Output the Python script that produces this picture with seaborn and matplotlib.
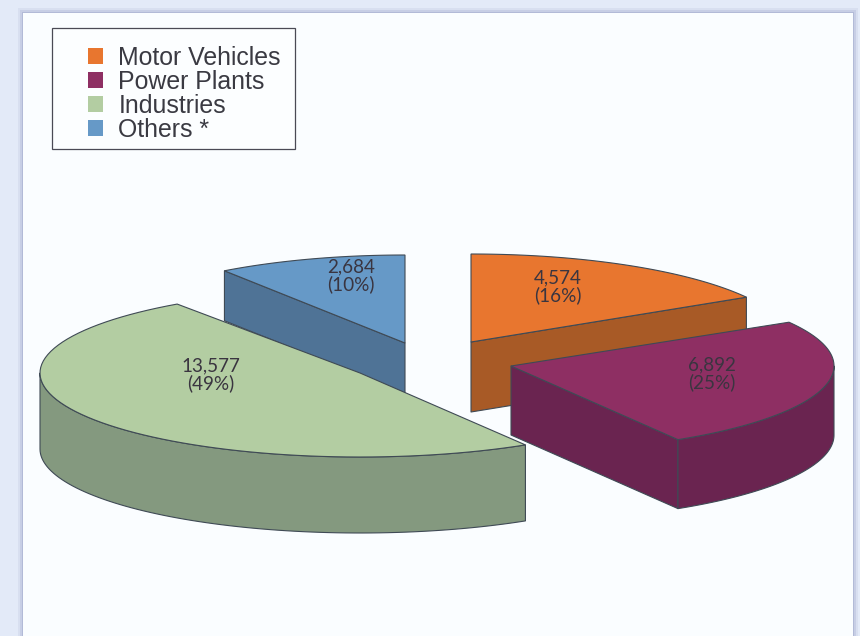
import numpy as np
import matplotlib
matplotlib.use('Agg')
import matplotlib.pyplot as plt
from matplotlib.patches import Patch, Rectangle
import seaborn as sns

categories = ['Motor Vehicles', 'Power Plants', 'Industries', 'Others *']
values = [4574, 6892, 13577, 2684]

top_colors = ['#E8762F', '#8E2F63', '#B3CDA2', '#6699C7']
side_colors = ['#A85A26', '#6A2450', '#84997F', '#4F7396']

# apex position (exploded slices), ellipse radii and extrusion depth, in pixels
apex_x = [471, 511, 360, 405]
apex_y = [342, 366, 373, 343]
radius_x = [320, 323, 320, 316]
radius_y = [88, 86, 84, 88]
depth = [70, 69, 76, 50]
label_x = [558, 712, 211, 351]
label_y = [287, 374, 375, 276]
draw_order = [3, 0, 1, 2]

EDGE = '#3F4A55'


def arc_points(i, t0, t1):
    t = np.radians(np.linspace(t0, t1, 80))
    return apex_x[i] + radius_x[i] * np.sin(t), apex_y[i] - radius_y[i] * np.cos(t)


def draw_wall(ax, xs, ys, d, color):
    px = np.concatenate([xs, xs[::-1]])
    py = np.concatenate([ys, ys[::-1] + d])
    ax.fill(px, py, facecolor=color, edgecolor=EDGE, linewidth=0.8, joinstyle='round')


def draw_slice(ax, i, t0, t1):
    # a wall shows only where the outline runs leftwards on screen
    x0, y0 = arc_points(i, t0, t0)
    x1, y1 = arc_points(i, t1, t1)
    if np.sin(np.radians(t0)) < -1e-6:
        draw_wall(ax, np.array([apex_x[i], x0[0]]), np.array([apex_y[i], y0[0]]), depth[i], side_colors[i])
    if np.sin(np.radians(t1)) > 1e-6:
        draw_wall(ax, np.array([apex_x[i], x1[0]]), np.array([apex_y[i], y1[0]]), depth[i], side_colors[i])
    lo, hi = max(t0, 90), min(t1, 270)
    if hi > lo:
        ax_x, ax_y = arc_points(i, lo, hi)
        draw_wall(ax, ax_x, ax_y, depth[i], side_colors[i])
    arc_x, arc_y = arc_points(i, t0, t1)
    ax.fill(np.r_[apex_x[i], arc_x], np.r_[apex_y[i], arc_y], facecolor=top_colors[i],
            edgecolor=EDGE, linewidth=0.8)


sns.set_theme(style='white')
plt.rcParams['font.family'] = ['Liberation Sans', 'DejaVu Sans']

fig = plt.figure(figsize=(8.6, 6.36), dpi=100, facecolor='#E3EAF8')
ax = fig.add_axes([0, 0, 1, 1])
ax.set_xlim(0, 860)
ax.set_ylim(636, 0)
ax.axis('off')

# page panel with a soft shadow around it
for grow, alpha in zip([5, 3, 1], [0.12, 0.22, 0.35]):
    ax.add_patch(Rectangle((23 - grow, 13 - grow), 830 + 2 * grow, 640, facecolor='#8C96BE',
                           alpha=alpha, edgecolor='none'))
ax.add_patch(Rectangle((23, 13), 830, 640, facecolor='#FAFDFF', edgecolor='none'))

total = sum(values)
angles = np.cumsum([0] + [360 * v / total for v in values])
for i in draw_order:
    draw_slice(ax, i, angles[i], angles[i + 1])

for i, v in enumerate(values):
    pct = round(100 * v / total)
    ax.text(label_x[i], label_y[i], f'{v:,}\n({pct}%)', ha='center', va='center',
            family=['Lato', 'DejaVu Sans'], fontsize=13.6, color='#3A3540', linespacing=1.0)

ax.add_patch(Rectangle((52, 28), 243, 121, facecolor='#FCFEFF', edgecolor='#4A4A55', linewidth=0.9))
handles = [Patch(facecolor=c, edgecolor='none', label=n) for c, n in zip(top_colors, categories)]
ax.legend(handles=handles, loc='upper left', bbox_to_anchor=(88, 46), bbox_transform=ax.transData,
          frameon=False, fontsize=17.9, labelcolor='#3A3A42', borderpad=0, borderaxespad=0,
          handlelength=0.6, handleheight=0.6, handletextpad=0.62, labelspacing=0.0)

fig.savefig('out.png', dpi=100)
